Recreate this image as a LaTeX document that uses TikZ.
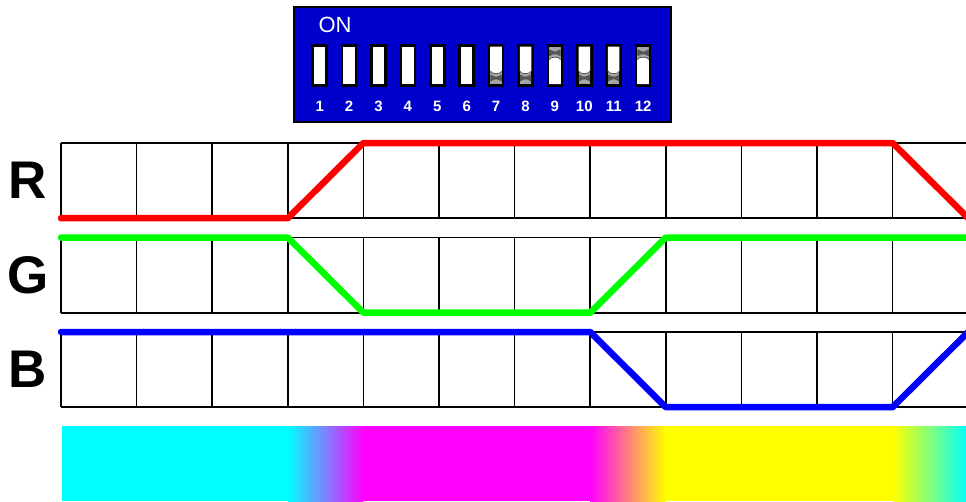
\documentclass[tikz,border=0pt]{standalone}
\usepackage{fontspec}
\setmainfont{Liberation Sans}
\definecolor{dipblue}{RGB}{0,0,205}
\definecolor{knobgray}{RGB}{165,165,165}
\definecolor{knobdark}{RGB}{85,85,85}
\definecolor{cy}{RGB}{0,255,255}
\definecolor{mg}{RGB}{255,0,255}
\definecolor{yl}{RGB}{255,255,0}
\definecolor{rr}{RGB}{255,0,0}
\definecolor{gg}{RGB}{0,255,0}
\definecolor{bb}{RGB}{0,0,255}
\begin{document}
\begin{tikzpicture}[x=1pt,y=-1pt,
  gridline/.style={line width=1.7pt,black},
  sigline/.style={line width=6.5pt,line cap=round,line join=round},
  lbl/.style={font=\bfseries\fontsize{53}{53}\selectfont,inner sep=0pt},
  swbox/.style={draw=black,line width=2.5pt,fill=white,minimum width=14pt,minimum height=40.2pt,inner sep=0pt},
  swnum/.style={text=white,font=\bfseries\fontsize{15}{15}\selectfont,inner sep=0pt},
  knobedge/.style={draw=knobdark,line width=0.8pt}
]
\useasboundingbox (0,0) rectangle (966,501);
\clip (0,0) rectangle (966,501);

% DIP switch
\node[draw=black,line width=2pt,fill=dipblue,minimum width=377pt,minimum height=115pt,inner sep=0pt] (dip) at (482.8,64.5) {};
\node[text=white,font=\fontsize{22}{22}\selectfont,inner sep=0pt] (on) at (335,25) {ON};
\foreach \i/\s in {1/0,2/0,3/0,4/0,5/0,6/0,7/1,8/1,9/2,10/1,11/1,12/2}{
  \pgfmathsetmacro\cx{319.7+29.4*(\i-1)}
  \node[swbox] (sw\i) at (\cx,65.4) {};
  \node[swnum] (n\i) at (\cx,106) {\i};
  \ifnum\s=1
    \fill[knobgray] (\cx-5.75,71) rectangle (\cx+5.75,84.2);
    \fill[knobdark] (\cx-5.75,74.5) .. controls (\cx,77.5) .. (\cx+5.75,74.5) -- (\cx+5.75,81.5) .. controls (\cx,78.5) .. (\cx-5.75,81.5) -- cycle;
    \fill[white] (\cx-5.75,46.6) -- (\cx+5.75,46.6) -- (\cx+5.75,71) .. controls (\cx+5.75,74.5) and (\cx-5.75,74.5) .. (\cx-5.75,71) -- cycle;
    \draw[knobedge] (\cx+5.75,71) .. controls (\cx+5.75,74.5) and (\cx-5.75,74.5) .. (\cx-5.75,71);
  \fi
  \ifnum\s=2
    \fill[knobgray] (\cx-5.75,46.6) rectangle (\cx+5.75,59.8);
    \fill[knobdark] (\cx-5.75,49.3) .. controls (\cx,52.3) .. (\cx+5.75,49.3) -- (\cx+5.75,56.3) .. controls (\cx,53.3) .. (\cx-5.75,56.3) -- cycle;
    \fill[white] (\cx-5.75,84.2) -- (\cx+5.75,84.2) -- (\cx+5.75,59.8) .. controls (\cx+5.75,56.3) and (\cx-5.75,56.3) .. (\cx-5.75,59.8) -- cycle;
    \draw[knobedge] (\cx+5.75,59.8) .. controls (\cx+5.75,56.3) and (\cx-5.75,56.3) .. (\cx-5.75,59.8);
  \fi
}

% grid rows
\foreach \r in {0,1,2}{
  \pgfmathsetmacro\yt{143+94.5*\r}
  \pgfmathsetmacro\yb{\yt+75.2}
  \draw[gridline] (61,\yt) -- (980,\yt);
  \draw[gridline] (61,\yb) -- (980,\yb);
  \foreach \k in {0,...,12}{
    \pgfmathsetmacro\xx{61+75.6*\k}
    \draw[gridline] (\xx,\yt) -- (\xx,\yb);
  }
}

% labels
\node[lbl] (lR) at (28,180.5) {R};
\node[lbl] (lG) at (28,275.5) {G};
\node[lbl] (lB) at (28,369.5) {B};

% signal lines
\coordinate (r0) at (61,218.2);
\coordinate (r1) at (287.8,218.2);
\coordinate (r2) at (363.4,143);
\coordinate (r3) at (892.6,143);
\coordinate (r4) at (968.2,218.2);
\draw[sigline,rr] (r0) -- (r1) -- (r2) -- (r3) -- (r4) -- (985,218.2);

\coordinate (g0) at (61,237.5);
\coordinate (g1) at (287.8,237.5);
\coordinate (g2) at (363.4,312.7);
\coordinate (g3) at (590.2,312.7);
\coordinate (g4) at (665.8,237.5);
\coordinate (g5) at (985,237.5);
\draw[sigline,gg] (g0) -- (g1) -- (g2) -- (g3) -- (g4) -- (g5);

\coordinate (b0) at (61,332);
\coordinate (b1) at (590.2,332);
\coordinate (b2) at (665.8,407.2);
\coordinate (b3) at (892.6,407.2);
\coordinate (b4) at (968.2,332);
\draw[sigline,bb] (b0) -- (b1) -- (b2) -- (b3) -- (b4) -- (985,332);

% colour bar
\fill[cy] (62,426) rectangle (288.3,501);
\shade[left color=cy,right color=mg] (287.8,426) rectangle (363.4,501);
\fill[mg] (363,426) rectangle (590.6,501);
\shade[left color=mg,right color=yl] (590.2,426) rectangle (665.8,501);
\fill[yl] (665.4,426) rectangle (893,501);
\shade[left color=yl,right color=cy] (892.6,426) rectangle (968.2,501);
\end{tikzpicture}
\end{document}
